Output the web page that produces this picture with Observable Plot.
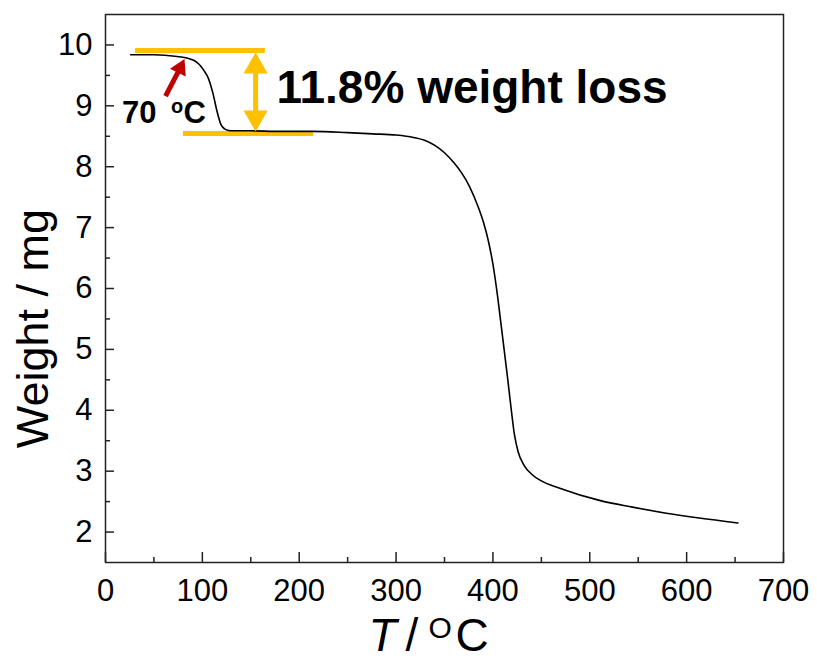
<!DOCTYPE html>
<html>
<head>
<meta charset="utf-8">
<script src="https://cdn.jsdelivr.net/npm/d3@7"></script>
<script src="https://cdn.jsdelivr.net/npm/@observablehq/plot@0.6"></script>
<style>
  html, body { margin: 0; padding: 0; background: #fff; }
  #chart { width: 817px; height: 661px; }
</style>
</head>
<body>
<div id="chart"></div>
<script>
// TGA curve
const temperature = [26, 50, 74, 85, 92, 98, 102, 106, 111, 115, 119, 123, 126, 132, 149, 180, 214, 250, 276, 300, 318, 330, 340, 350, 360, 368, 376, 385, 390, 395, 400, 405, 410, 415, 419, 422, 426, 432, 440, 450, 469, 510, 544, 579, 613, 653];
const weight      = [9.84, 9.84, 9.81, 9.78, 9.74, 9.66, 9.57, 9.46, 9.20, 8.92, 8.70, 8.62, 8.60, 8.59, 8.59, 8.58, 8.58, 8.56, 8.54, 8.52, 8.48, 8.43, 8.35, 8.23, 8.06, 7.89, 7.67, 7.33, 7.10, 6.80, 6.40, 5.85, 5.20, 4.55, 4.00, 3.62, 3.32, 3.10, 2.95, 2.84, 2.72, 2.52, 2.41, 2.31, 2.23, 2.15];

// Axis ticks
const xMajor = [0, 100, 200, 300, 400, 500, 600, 700];
const xMinor = [50, 150, 250, 350, 450, 550, 650];
const yMajor = [2, 3, 4, 5, 6, 7, 8, 9, 10];
const yMinor = [2.5, 3.5, 4.5, 5.5, 6.5, 7.5, 8.5, 9.5];

// Annotations
const levelLines = [
  {y: 9.91, x1: 31, x2: 165},
  {y: 8.546, x1: 80.5, x2: 215}
];
const lossArrow = {x: 155, yTop: 9.646, yBottom: 8.808};
const onsetArrow = {x1: 62, y1: 9.16, x2: 77, y2: 9.62};
const lossLabel = {x: 176.5, y: 9.04, text: "11.8% weight loss"};
const onsetLabel = [
  {x: 17, y: 8.726, text: "70", size: 31},
  {x: 67.5, y: 8.89, text: "o", size: 20},
  {x: 80.5, y: 8.726, text: "C", size: 31}
];

const data = temperature.map((t, i) => ({t, w: weight[i]}));
const W = 817, H = 661;
const mL = 105, mR = 34, mT = 14, mB = 99;
const fw = W - mL - mR, fh = H - mT - mB;
const orange = "#FFC000";
const red = "#C00000";
const font = "'Liberation Sans', Arial, sans-serif";

const plot = Plot.plot({
  width: W, height: H,
  marginLeft: mL, marginRight: mR, marginTop: mT, marginBottom: mB,
  style: {fontFamily: font, color: "#000", background: "#fff", overflow: "visible"},
  x: {domain: [0, 700]},
  y: {domain: [1.5, 10.5]},
  marks: [
    Plot.axisX({ticks: xMajor, tickSize: 0, tickPadding: 16, fontSize: 31, label: null, tickFormat: d => String(d)}),
    Plot.axisY({ticks: yMajor, tickSize: 0, tickPadding: 13, fontSize: 31, label: null, tickFormat: d => String(d)}),
    // inward ticks
    Plot.ruleX(xMajor, {x: d => d, insetTop: fh - 10, stroke: "#222", strokeWidth: 1.5}),
    Plot.ruleX(xMinor, {x: d => d, insetTop: fh - 5, stroke: "#222", strokeWidth: 1.5}),
    Plot.ruleY(yMajor, {y: d => d, insetRight: fw - 9, stroke: "#222", strokeWidth: 1.5}),
    Plot.ruleY(yMinor, {y: d => d, insetRight: fw - 5, stroke: "#222", strokeWidth: 1.5}),
    Plot.frame({stroke: "#222", strokeWidth: 1.5}),
    // orange level lines
    Plot.ruleY(levelLines, {y: "y", x1: "x1", x2: "x2", stroke: orange, strokeWidth: 5}),
    // data curve
    Plot.line(data, {x: "t", y: "w", stroke: "#000", strokeWidth: 1.6, curve: "monotone-x"}),
    // orange double arrow
    Plot.ruleX([lossArrow], {x: "x", y1: "yTop", y2: "yBottom", stroke: orange, strokeWidth: 5}),
    Plot.dot([lossArrow], {x: "x", y: "yTop", symbol: "triangle", r: 9, fill: orange, stroke: "none"}),
    Plot.dot([lossArrow], {x: "x", y: "yBottom", symbol: "triangle", r: 9, fill: orange, stroke: "none", rotate: 180}),
    // red onset arrow
    Plot.link([onsetArrow], {x1: "x1", y1: "y1", x2: "x2", y2: "y2", stroke: red, strokeWidth: 5}),
    Plot.dot([onsetArrow], {x: "x2", y: "y2", symbol: "triangle", r: 6.5, fill: red, stroke: "none", rotate: 26}),
    // annotation texts
    Plot.text([lossLabel], {x: "x", y: "y", text: "text", textAnchor: "start", lineAnchor: "bottom", fontSize: 46, fontWeight: "bold", fill: "#000"}),
    Plot.text(onsetLabel, {x: "x", y: "y", text: "text", textAnchor: "start", lineAnchor: "bottom", fontSize: d => d.size, fontWeight: "bold", fill: "#000"}),
    // axis titles
    Plot.text(["Weight / mg"], {frameAnchor: "left", text: d => d, rotate: -90, dx: -58, dy: 40, textAnchor: "middle", lineAnchor: "bottom", fontSize: 45, fill: "#000"}),
    Plot.text(["T"], {frameAnchor: "bottom-left", text: d => d, dx: 263, dy: 88, textAnchor: "start", lineAnchor: "bottom", fontSize: 46, fontStyle: "italic", fill: "#000"}),
    Plot.text(["/"], {frameAnchor: "bottom-left", text: d => d, dx: 300, dy: 88, textAnchor: "start", lineAnchor: "bottom", fontSize: 46, fill: "#000"}),
    Plot.text(["O"], {frameAnchor: "bottom-left", text: d => d, dx: 323, dy: 75, textAnchor: "start", lineAnchor: "bottom", fontSize: 30, fill: "#000"}),
    Plot.text(["C"], {frameAnchor: "bottom-left", text: d => d, dx: 350, dy: 88, textAnchor: "start", lineAnchor: "bottom", fontSize: 46, fill: "#000"})
  ]
});
document.getElementById("chart").appendChild(plot);
</script>
</body>
</html>
